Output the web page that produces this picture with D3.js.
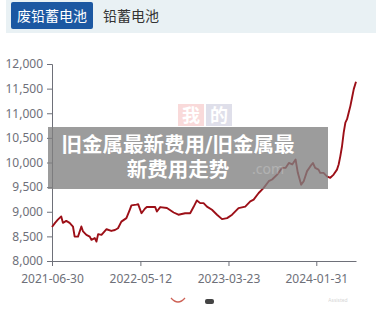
<!DOCTYPE html>
<html>
<head>
<meta charset="utf-8">
<script src="https://cdn.jsdelivr.net/npm/d3@7"></script>
<style>
  html, body { margin: 0; padding: 0; background: #fff; }
  svg { display: block; font-family: "Noto Sans", "Noto Sans CJK SC", sans-serif; }
</style>
</head>
<body>
<svg id="chart" width="378" height="317"></svg>
<script>
// tabs above the chart
const tabs = ["废铅蓄电池", "铅蓄电池"];
const title = ["旧金属最新费用/旧金属最", "新费用走势"];

// price series
const dates = [
  "2021-06-30", "2021-07-11", "2021-07-21", "2021-08-02", "2021-08-08", "2021-08-20",
  "2021-09-01", "2021-09-13", "2021-09-19", "2021-10-01", "2021-10-13", "2021-10-19",
  "2021-10-31", "2021-11-12", "2021-11-18", "2021-11-30", "2021-12-06", "2021-12-12",
  "2021-12-24", "2022-01-11", "2022-01-28", "2022-02-10", "2022-02-21", "2022-03-05",
  "2022-03-23", "2022-04-04", "2022-04-10", "2022-04-28", "2022-05-04", "2022-05-16",
  "2022-05-28", "2022-06-04", "2022-07-04", "2022-07-10", "2022-07-22", "2022-08-15",
  "2022-09-08", "2022-09-25", "2022-10-19", "2022-11-06", "2022-11-18", "2022-11-30",
  "2022-12-12", "2022-12-24", "2023-01-05", "2023-01-23", "2023-02-10", "2023-02-28",
  "2023-03-18", "2023-04-05", "2023-04-28", "2023-05-22", "2023-06-09", "2023-06-21",
  "2023-07-09", "2023-07-27", "2023-08-14", "2023-08-26", "2023-09-13", "2023-10-01",
  "2023-10-13", "2023-10-25", "2023-11-06", "2023-11-18", "2023-11-26", "2023-12-08",
  "2023-12-17", "2023-12-29", "2024-01-10", "2024-01-19", "2024-01-27", "2024-02-08",
  "2024-02-14", "2024-02-26", "2024-03-09", "2024-03-21", "2024-04-02", "2024-04-14",
  "2024-04-20", "2024-04-26", "2024-05-02", "2024-05-08", "2024-05-14", "2024-05-20",
  "2024-05-26", "2024-06-01", "2024-06-07", "2024-06-13", "2024-06-21"
];
const prices = [
  8690, 8775, 8840, 8905, 8775, 8815,
  8775, 8700, 8495, 8495, 8700, 8600,
  8530, 8495, 8430, 8465, 8395, 8545,
  8530, 8645, 8610, 8630, 8665, 8800,
  8870, 9040, 9130, 9145, 9155, 8970,
  9060, 9095, 9095, 9005, 9095, 9075,
  8985, 8940, 8970, 8970, 9095, 9230,
  9175, 9175, 9105, 9040, 8940, 8850,
  8870, 8940, 9075, 9105, 9210, 9245,
  9380, 9485, 9620, 9655, 9755, 9890,
  9890, 9990, 9960, 10060, 9790, 9550,
  9620, 9825, 9925, 9990, 9890, 9855,
  9790, 9790, 9720, 9690, 9755, 9855,
  9960, 10130, 10330, 10605, 10810, 10880,
  11015, 11150, 11320, 11490, 11640
];
const yTicks = [8000, 8500, 9000, 9500, 10000, 10500, 11000, 11500, 12000];
const xTicks = ["2021-06-30", "2022-05-12", "2023-03-23", "2024-01-31"];

const parse = d3.timeParse("%Y-%m-%d");
const fmt = d3.timeFormat("%Y-%m-%d");
const data = dates.map((d, i) => ({date: parse(d), value: prices[i]}));

const svg = d3.select("#chart");

// tab bar
svg.append("rect").attr("x", 6).attr("y", 0).attr("width", 370).attr("height", 33).attr("fill", "#e9f1f4");
svg.append("rect").attr("x", 11).attr("y", 2).attr("width", 82).attr("height", 27).attr("rx", 2).attr("fill", "#1c58a2");
svg.append("text").attr("x", 52).attr("y", 20.5).attr("text-anchor", "middle")
  .attr("fill", "#fff").style("font-size", "14px").text(tabs[0]);
svg.append("text").attr("x", 103).attr("y", 20.5)
  .attr("fill", "#333").style("font-size", "14px").text(tabs[1]);

const x = d3.scaleTime()
  .domain(d3.extent(data, d => d.date))
  .range([52, 356]);
const y = d3.scaleLinear()
  .domain([8000, 12000])
  .range([261, 64]);

// watermark behind the line
const wm = svg.append("g").attr("opacity", 0.3);
wm.append("rect").attr("x", 178).attr("y", 104).attr("width", 26).attr("height", 22).attr("fill", "#e88");
wm.append("rect").attr("x", 206).attr("y", 104).attr("width", 26).attr("height", 22).attr("fill", "#99b");
wm.append("text").attr("x", 191).attr("y", 122).attr("text-anchor", "middle").attr("fill", "#fff")
  .style("font-size", "18px").style("font-weight", "bold").text("我");
wm.append("text").attr("x", 219).attr("y", 122).attr("text-anchor", "middle").attr("fill", "#fff")
  .style("font-size", "18px").style("font-weight", "bold").text("的");

// y axis
const yAxis = svg.append("g")
  .attr("transform", "translate(52,0)")
  .call(d3.axisLeft(y).tickValues(yTicks).tickSize(5).tickPadding(4).tickFormat(d3.format(",")));
yAxis.select(".domain").attr("stroke", "#6e7079");
yAxis.selectAll(".tick line").attr("stroke", "#6e7079");
yAxis.selectAll("text").attr("fill", "#6e7079").style("font-size", "12px")
  .style("font-family", "'Noto Sans', sans-serif");

// x axis
const xAxis = svg.append("g")
  .attr("transform", "translate(0,261)")
  .call(d3.axisBottom(x).tickValues(xTicks.map(parse)).tickSize(5).tickPadding(8).tickFormat(fmt).tickSizeOuter(0));
xAxis.select(".domain").attr("stroke", "#6e7079");
xAxis.selectAll(".tick line").attr("stroke", "#6e7079");
xAxis.selectAll("text").attr("fill", "#6e7079").style("font-size", "12px")
  .style("font-family", "'Noto Sans', sans-serif");

// price line
svg.append("path")
  .datum(data)
  .attr("fill", "none")
  .attr("stroke", "#9c0f17")
  .attr("stroke-width", 1.9)
  .attr("stroke-linejoin", "round")
  .attr("d", d3.line().x(d => x(d.date)).y(d => y(d.value)));

// title overlay
svg.append("rect").attr("x", 48).attr("y", 127).attr("width", 280).attr("height", 62)
  .attr("fill", "#808080").attr("opacity", 0.78);
svg.append("text").attr("x", 268).attr("y", 174).attr("text-anchor", "middle")
  .attr("fill", "#fff").attr("opacity", 0.22).style("font-size", "14px").text(".com");
svg.selectAll(".ttl").data(title).enter().append("text")
  .attr("class", "ttl")
  .attr("x", 178)
  .attr("y", (d, i) => 151.5 + i * 25.5)
  .attr("text-anchor", "middle")
  .attr("fill", "#fff")
  .style("font-size", "20.5px")
  .style("font-weight", "bold")
  .style("font-family", "'DejaVu Sans', 'Noto Sans CJK SC', sans-serif")
  .text(d => d);

// faint bottom marks
svg.append("path").attr("d", "M171,298 Q178,306 185,298").attr("fill", "none")
  .attr("stroke", "#c0392b").attr("stroke-width", 1.3).attr("opacity", 0.8);
svg.append("rect").attr("x", 205).attr("y", 299).attr("width", 9).attr("height", 5).attr("rx", 2).attr("fill", "#444");
svg.append("text").attr("x", 338).attr("y", 302).attr("text-anchor", "middle")
  .attr("fill", "#bbb").attr("opacity", 0.6).style("font-size", "5px").text("Assisted");
</script>
</body>
</html>
